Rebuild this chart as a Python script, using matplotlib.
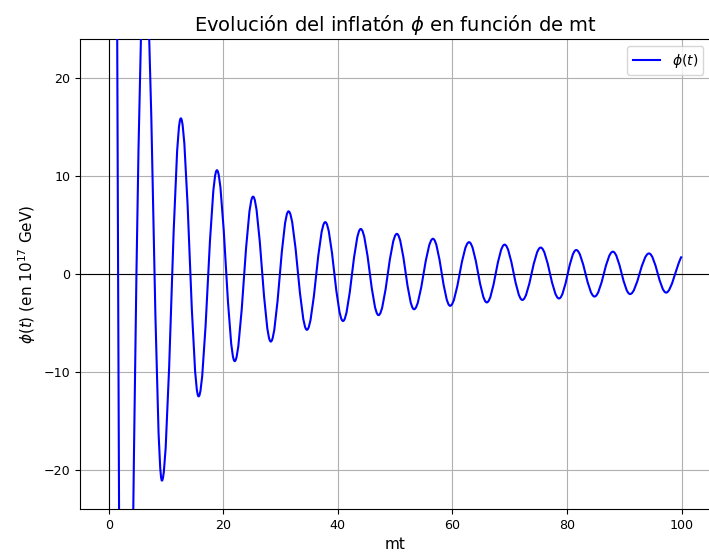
"""
    Evolucion del inflaton phi(t) en funcion de mt

    Curva reconstruida a partir de los extremos y cruces por cero leidos del grafico.
    Cada tramo entre nodos se dibuja como una curva de Bezier cubica de matplotlib.
"""

# importing libraries
import matplotlib.pyplot as plt
from matplotlib.path import Path
from matplotlib.patches import PathPatch
from matplotlib.lines import Line2D

# nodos: tiempo (mt), valor de phi y pendiente (0 en los extremos)
t_nodes = [0.0, 1.65, 3.1, 4.85, 6.3, 9.3, 12.6, 15.7, 18.9, 22.0, 25.2, 28.3,
           31.4, 34.6, 37.8, 40.9, 44.0, 47.1, 50.3, 53.3, 56.6, 59.6, 62.9,
           66.0, 69.1, 72.2, 75.4, 78.6, 81.6, 84.8, 88.0, 91.0, 94.3, 97.3, 100.0]
phi_nodes = [150.0, 0.0, -65.0, 0.0, 33.0, -21.1, 15.9, -12.5, 10.6, -8.9, 7.9, -6.9,
             6.4, -5.7, 5.3, -4.8, 4.6, -4.2, 4.1, -3.6, 3.6, -3.25, 3.25,
             -2.9, 3.0, -2.65, 2.7, -2.5, 2.45, -2.3, 2.28, -2.05, 2.1, -1.9, 1.8]
slope_nodes = [0.0, -160.0, 0.0, 36.0, 0.0, 0.0, 0.0, 0.0, 0.0, 0.0, 0.0, 0.0,
               0.0, 0.0, 0.0, 0.0, 0.0, 0.0, 0.0, 0.0, 0.0, 0.0, 0.0,
               0.0, 0.0, 0.0, 0.0, 0.0, 0.0, 0.0, 0.0, 0.0, 0.0, 0.0, 1.0]

line_color = "blue"

plt.rcParams["font.size"] = 9.1

fig = plt.figure(figsize=(7.09, 5.55), dpi=100)
ax = fig.add_axes([80 / 709, 1 - 509 / 555, 630.3 / 709, 470 / 555])

# tramos de Bezier entre nodos consecutivos (tangentes segun la pendiente de cada nodo)
verts = [(t_nodes[0], phi_nodes[0])]
codes = [Path.MOVETO]
for i in range(len(t_nodes) - 1):
    t0, t1 = t_nodes[i], t_nodes[i + 1]
    y0, y1 = phi_nodes[i], phi_nodes[i + 1]
    m0, m1 = slope_nodes[i], slope_nodes[i + 1]
    # entre dos extremos: forma de medio coseno
    frac = 0.3642 if (m0 == 0 and m1 == 0) else 1 / 3
    h = (t1 - t0) * frac
    verts += [(t0 + h, y0 + h * m0), (t1 - h, y1 - h * m1), (t1, y1)]
    codes += [Path.CURVE4] * 3

curve = PathPatch(Path(verts, codes), facecolor="none", edgecolor=line_color,
                  lw=1.5, zorder=3, joinstyle="round")
ax.add_patch(curve)

ax.axhline(0, color="black", lw=0.8)
ax.axvline(0, color="black", lw=0.8)

ax.set_xlim(-5, 105)
ax.set_ylim(-24, 24)
ax.grid(True)

ax.set_title(r"Evolución del inflatón $\phi$ en función de mt", fontsize=14)
ax.set_xlabel("mt", fontsize=11)
ax.set_ylabel(r"$\phi(t)$ (en $10^{17}$ GeV)", fontsize=11)

handle = Line2D([], [], color=line_color, lw=1.5)
ax.legend([handle], [r"$\phi(t)$"], loc="upper right", fontsize=10)

fig.savefig("out.png", dpi=100)
